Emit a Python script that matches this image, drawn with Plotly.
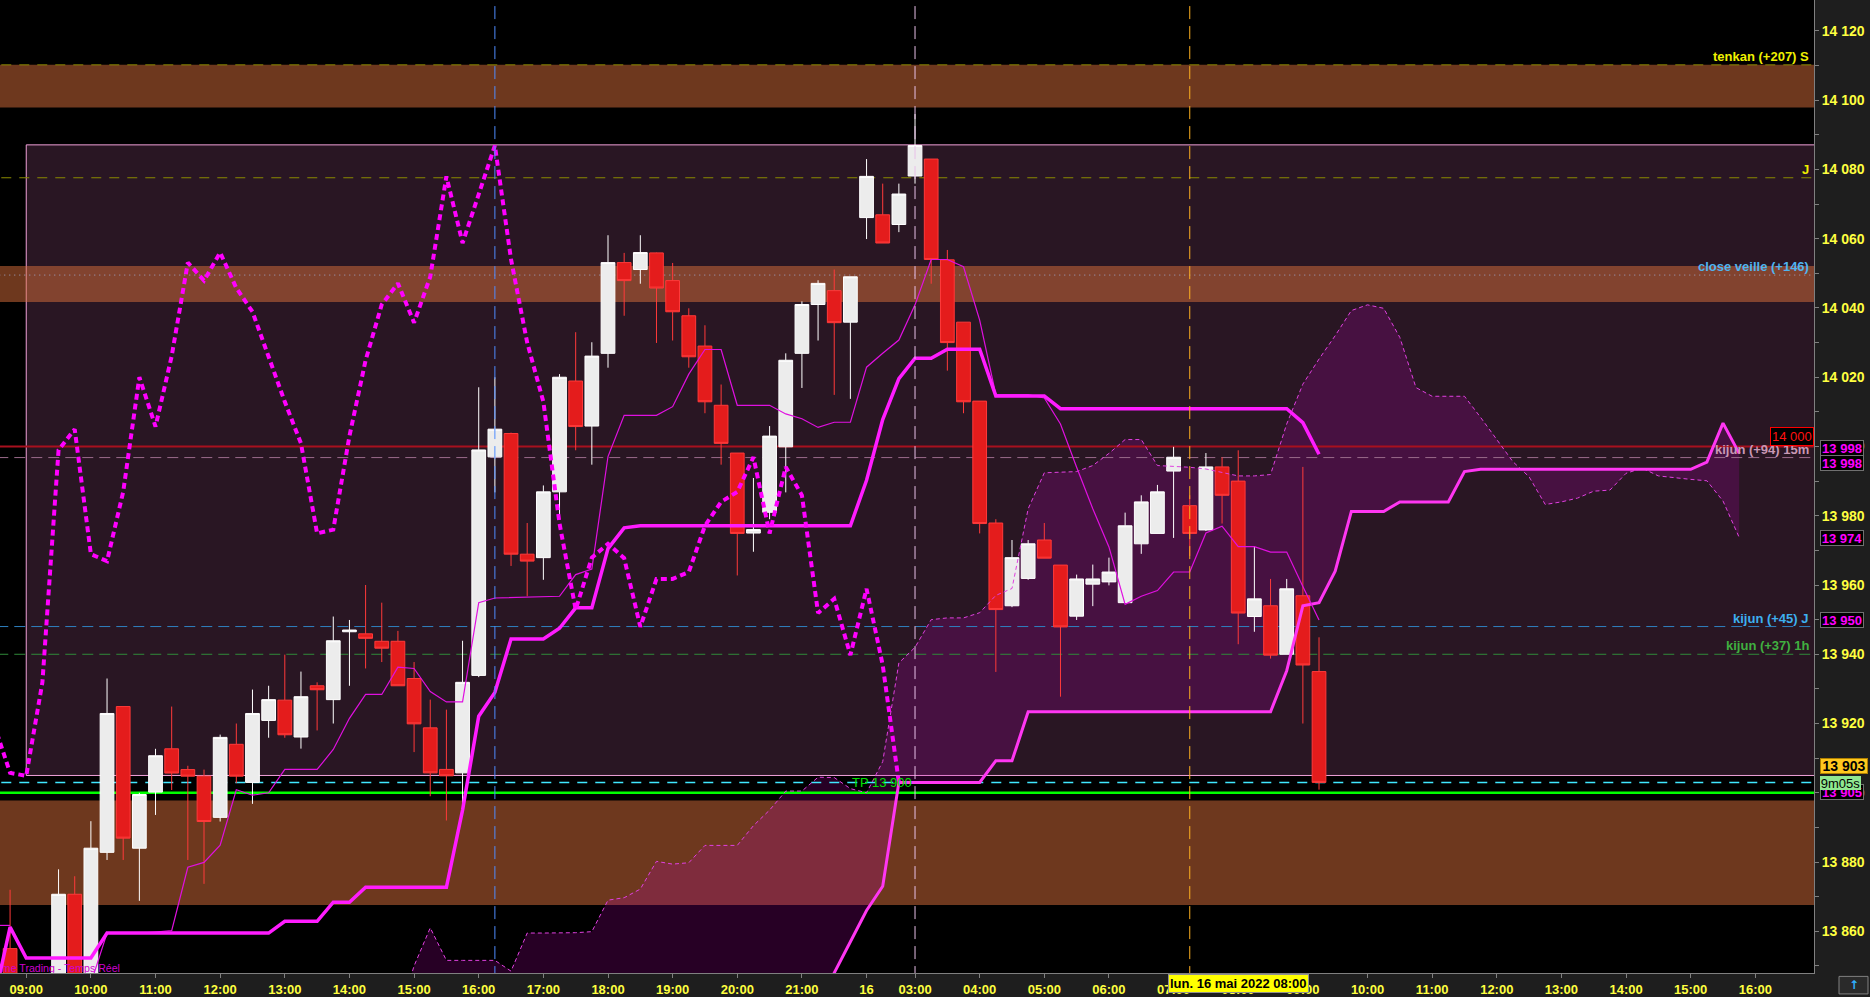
import plotly.graph_objects as go

# ---------------- DATA ----------------
# 15-minute candles: Fri 13 May 2022 08:45 -> 21:45, then Mon 16 May 2022 02:15 -> 09:15
opens = [13855, None, None, 13840, 13870.7, 13840, 13882.8, 13924.9, 13884, 13900.2,
         13912.7, 13906.7, 13904.8, 13892.9, 13914, 13903, 13920.9, 13926.75, 13916.1, 13930.9,
         13926.9, 13946.5, 13945.9, 13943.75, 13943.75, 13933, 13918.75, 13906.75, 13905.75, 13933.9,
         13997, 14003.75, 13968.9, 13967.9, 13986.9, 14018.9, 14005.9, 14026.9, 14053.1, 14051.1,
         14055.9, 14047.9, 14037.75, 14029, 14011.9, 13998.1, 13975, 13981, 13999.9, 14026.9,
         14041, 14045, 14035.9, 14066.1, 14066.9, 14064.1, 14078.1, 14083, 14053.9, 14035.9,
         14013.1, 13977.9, 13954, 13961.9, 13973, 13965.75, 13951, 13960.25, 13960.9, 13954.9,
         13971.9, 13974.9, 13992.9, 13982.9, 13975.9, 13994.1, 13990, 13950.9, 13954, 13940,
         13956.9, 13935]
highs = [13872, None, None, 13877.9, 13875.9, 13891.8, 13933, 13925, 13900, 13912.7,
         13924.9, 13907.8, 13906.7, 13916.8, 13920, 13929.8, 13930.9, 13939.9, 13935, 13931.9,
         13950.9, 13949.9, 13960, 13954.9, 13946.75, 13937.75, 13926.9, 13924, 13943.9, 14017.1,
         14020, 14004, 13977.9, 13988.75, 14020.9, 14033, 14030.1, 14061, 14055.9, 14061,
         14056, 14053, 14039.9, 14035, 14017.9, 13998.1, 13990.9, 14005.9, 14026.9, 14041.9,
         14048, 14051.1, 14049, 14083, 14075.9, 14075.9, 14096, 14083, 14056.75, 14035.9,
         14013.1, 13979, 13973, 13973, 13977.9, 13965.75, 13963, 13965.9, 13967.9, 13980.9,
         13985.9, 13988.9, 13999.9, 13985.9, 13998.1, 13996.9, 13998.9, 13971.1, 13961.75, 13961.75,
         13994.1, 13944.9]
lows = [13835, None, None, 13835, 13835, 13835, 13880.6, 13880.6, 13868.8, 13893.6,
        13900.8, 13880.6, 13873.7, 13891.7, 13902.8, 13896.8, 13915.9, 13915.9, 13912.75, 13918,
        13920, 13930.9, 13935.9, 13937.75, 13930.9, 13911.75, 13899, 13892, 13896, 13933.4,
        13986.75, 13965.5, 13956.75, 13961.5, 13979.9, 13998.9, 13994.75, 14022.75, 14037.75, 14047,
        14029.9, 14030.6, 14022.75, 14009.6, 13994.75, 13962.75, 13969.6, 13979, 13986.75, 14016.9,
        14030.6, 14014.9, 14013.75, 14059.9, 14058.75, 14061.9, 14075.9, 14047, 14021.9, 14009.6,
        13974.9, 13934.9, 13953.6, 13961.5, 13967.75, 13927.75, 13949.9, 13953.9, 13959.9, 13954.9,
        13969, 13974.9, 13973.6, 13968.4, 13975.6, 13977.75, 13942.9, 13946.5, 13938.75, 13940,
        13920, 13900.9]
closes = [13840, None, None, 13870.7, 13840, 13884, 13922.9, 13886.9, 13899.5, 13910.7,
          13905.7, 13904.8, 13891.7, 13916, 13904.8, 13922.9, 13926.9, 13916.75, 13927.75, 13929.75,
          13943.9, 13947, 13944.6, 13941.75, 13930.9, 13919.9, 13905.75, 13904.9, 13931.9, 13999,
          14005, 13968.9, 13966.9, 13986.9, 14020, 14005.75, 14026.1, 14053.1, 14047.9, 14056,
          14045.75, 14038.9, 14025.9, 14012.9, 14000.9, 13974.9, 13976, 14003, 14024.9, 14041,
          14047.1, 14035.75, 14049, 14078, 14058.75, 14072.9, 14086.9, 14054, 14030, 14012.9,
          13977.75, 13952.9, 13967.9, 13971.9, 13967.75, 13947.9, 13961.75, 13961.75, 13963.75, 13977.1,
          13984, 13986.9, 13996.9, 13974.9, 13994.1, 13985.9, 13951.9, 13956, 13939.75, 13958.9,
          13936.9, 13903]

# Ichimoku lines (values per bar, first value = bar -1)
tenkan = [13861.7, 13861.7, None, None, None, None, 13845,
          13859.5, 13859.5, 13859.5, 13859.8, 13860.2, 13878.5, 13879.9, 13884.9, 13900.9, 13899.3,
          13900.0, 13906.75, 13906.75, 13906.75, 13912.5, 13921.5, 13928.4, 13928.4, 13936.25, 13935.9,
          13929.25, 13926.25, 13926.25, 13954.9, 13956.25, 13956.4, 13956.5, 13956.6, 13956.75, 13963.0,
          13964.6, 13997.1, 14009.0, 14009.0, 14009.0, 14011.5, 14020.9, 14028.0, 14028.0, 14011.9,
          14011.9, 14011.9, 14009.4, 14008.0, 14005.5, 14007.0, 14007.0, 14022.9, 14026.9, 14030.75,
          14040.9, 14054.0, 14054.0, 14051.9, 14036.5, 14015.0, 14015.0, 14015.0, 14014.0, 14006.5,
          13994.0, 13982.0, 13971.0, 13954.4, 13956.75, 13958.4, 13963.75, 13963.75, 13975.0, 13977.0,
          13971.1, 13971.1, 13969.5, 13969.5, 13959.6, 13949.9]
kijun = [13840, 13861.2,
         13852.3, 13852.3, 13852.3, 13852.3, 13852.3,
         13859.5, 13859.5, 13859.5, 13859.5, 13859.5, 13859.5, 13859.5, 13859.5, 13859.5, 13859.5, 13859.5,
         13862.9, 13862.9, 13862.9, 13868.4, 13868.4,
         13872.7, 13872.7, 13872.7, 13872.7, 13872.7, 13872.7,
         13895, 13922.1, 13929, 13944.4, 13944.4, 13944.4, 13947.5, 13953.4, 13953.4, 13970.5, 13976.5,
         13977.1, 13977.1, 13977.1, 13977.1, 13977.1, 13977.1, 13977.1, 13977.1, 13977.1, 13977.1,
         13977.1, 13977.1, 13977.1, 13977.1,
         13990.25, 14007.75, 14019.6, 14025.5, 14025.5, 14028.1, 14028.1, 14028.1,
         14014.6, 14014.6, 14014.6, 14014.6,
         14010.9, 14010.9, 14010.9, 14010.9, 14010.9, 14010.9, 14010.9, 14010.9, 14010.9, 14010.9,
         14010.9, 14010.9, 14010.9, 14010.9, 14010.9,
         14006.9, 13997.75]
# senkou spans, projected 26 bars ahead (first value = bar 24)
senkou_a = [13835, 13850, 13861, 13851.6, 13851.6, 13851.6, 13851.6, 13848.5, 13859.5, 13859.5,
            13859.5, 13859.6, 13859.9, 13869, 13869.7, 13872.2, 13880.2, 13879.4, 13879.8, 13884.8,
            13884.8, 13884.8, 13890.5, 13895, 13900.5, 13900.5, 13904.5, 13904.4, 13901.2, 13900,
            13909, 13937.5, 13942, 13950, 13950.5, 13950.5, 13952, 13957, 13959, 13982,
            13992.4, 13992.6, 13992.75, 13994.5, 13998, 14002, 14002, 13994.5, 13994.3, 13994,
            13993.5, 13992.5, 13991.5, 13991.5, 13991.9, 14006.5, 14018, 14025.25, 14032, 14039.25,
            14040.9, 14039.9, 14031.5, 14017, 14014.5, 14014.5, 14014.5, 14008.4, 14002.1, 13995.6,
            13991.25, 13983.25, 13984, 13985.1, 13987.1, 13987.4, 13992.25, 13993.75, 13991.5, 13990.9,
            13990.5, 13990.1, 13984.25, 13973.75]
senkou_b = [13835, 13835, 13835, 13835, 13835, 13835, 13835, 13835, 13835, 13835,
            13835, 13835, 13835, 13835, 13835, 13835, 13835, 13835, 13835, 13835,
            13835, 13835, 13835, 13835, 13835, 13835, 13838, 13848, 13857, 13866,
            13873, 13903, 13903, 13903, 13903, 13903, 13903, 13909.25, 13909.25, 13923.4,
            13923.4, 13923.4, 13923.4, 13923.4, 13923.4, 13923.4, 13923.4, 13923.4, 13923.4, 13923.4,
            13923.4, 13923.4, 13923.4, 13923.4, 13923.4, 13935.25, 13954, 13954.9, 13964, 13981.25,
            13981.25, 13981.25, 13984, 13984, 13984, 13984, 13992.75, 13993.4, 13993.4, 13993.4,
            13993.4, 13993.4, 13993.4, 13993.4, 13993.4, 13993.4, 13993.4, 13993.4, 13993.4, 13993.4,
            13993.4, 13995.5, 14006.75, 13998]

tick_pos = [1, 5, 9, 13, 17, 21, 25, 29, 33, 37, 41, 45, 49, 53, 56, 60, 64, 68, 72, 76, 80,
            84, 88, 92, 96, 100, 104, 108]
tick_text = ["09:00", "10:00", "11:00", "12:00", "13:00", "14:00", "15:00", "16:00", "17:00",
             "18:00", "19:00", "20:00", "21:00", "16", "03:00", "04:00", "05:00", "06:00", "07:00",
             "08:00", "09:00", "10:00", "11:00", "12:00", "13:00", "14:00", "15:00", "16:00"]

# ---------------- FIGURE ----------------
FONT = "Liberation Sans, Arial, sans-serif"
bars_x = list(range(len(opens)))
line_x = list(range(-1, len(tenkan) - 1))
sen_x = list(range(24, 24 + len(senkou_a)))
chikou_x = [i - 26 for i in range(25, len(closes))]
chikou_y = closes[25:]

X_RANGE = [-0.624, 111.63]
Y_RANGE = [13847.96, 14128.93]
XL, XH = -5, 140   # horizontal extent for zone shapes (clipped by the plot area)

fig = go.Figure()

# watermark (partly cut by the left edge, as in the original)
fig.add_trace(go.Scatter(x=[6.8], y=[13848.9], mode="text", text=["ProRealTime Trading - Temps Réel"],
                         textposition="middle left", textfont=dict(family=FONT, size=10.6, color="#d000d0"),
                         hoverinfo="skip"))

fig.add_trace(go.Candlestick(
    x=bars_x, open=opens, high=highs, low=lows, close=closes,
    increasing=dict(line=dict(color="#ffffff", width=1), fillcolor="#ececec"),
    decreasing=dict(line=dict(color="#ff3a3a", width=1), fillcolor="#e41c1c"),
    whiskerwidth=0, hoverinfo="skip"))

fig.add_trace(go.Scatter(x=sen_x, y=senkou_a, mode="lines",
                         line=dict(color="#e040e0", width=1, dash="4px,3px"), hoverinfo="skip"))
fig.add_trace(go.Scatter(x=sen_x, y=senkou_b, mode="lines",
                         line=dict(color="#ff36f2", width=3), hoverinfo="skip"))
fig.add_trace(go.Scatter(x=line_x, y=tenkan, mode="lines",
                         line=dict(color="#e010e0", width=1.2), hoverinfo="skip"))
fig.add_trace(go.Scatter(x=line_x, y=kijun, mode="lines",
                         line=dict(color="#ff1cff", width=3.5), hoverinfo="skip"))
fig.add_trace(go.Scatter(x=chikou_x, y=chikou_y, mode="lines",
                         line=dict(color="#ff00ff", width=4, dash="6px,4px"), hoverinfo="skip"))

# cloud path (between senkou A and B)
pts = list(zip(sen_x, senkou_a)) + list(zip(sen_x, senkou_b))[::-1]
cloud_path = "M " + " L ".join(f"{x},{y}" for x, y in pts) + " Z"

band = "rgba(220,112,60,0.5)"
shapes = [
    dict(type="rect", xref="x", yref="y", x0=1, x1=XH, y0=13905, y1=14087.1,
         fillcolor="#291623", line=dict(color="#f0a0d8", width=1), layer="below"),
    dict(type="rect", xref="x", yref="y", x0=XL, x1=XH, y0=14097.9, y1=14110.2,
         fillcolor=band, line=dict(width=0), layer="below"),
    dict(type="rect", xref="x", yref="y", x0=XL, x1=XH, y0=14041.7, y1=14052.1,
         fillcolor=band, line=dict(width=0), layer="below"),
    dict(type="rect", xref="x", yref="y", x0=XL, x1=XH, y0=13867.6, y1=13897.8,
         fillcolor=band, line=dict(width=0), layer="below"),
    dict(type="path", xref="x", yref="y", path=cloud_path,
         fillcolor="rgba(196,0,185,0.2)", line=dict(width=0), layer="below"),
]
hlines = [
    (14110.2, "#8a8a00", 1, "10px,8px"),
    (14077.6, "#8a8a00", 1, "10px,8px"),
    (14049.5, "#a0a8c8", 1, "1px,4px"),
    (14000.0, "#a8101e", 2, "solid"),
    (13996.8, "#9a6a8a", 1, "11px,6px"),
    (13948.0, "#2f80c0", 1, "11px,6px"),
    (13940.0, "#2f8a3a", 1, "11px,6px"),
    (13903.0, "#40e8ff", 1.5, "10px,8px"),
    (13900.0, "#00ff00", 2.5, "solid"),
]
for yv, col, w, dsh in hlines:
    shapes.append(dict(type="line", xref="x", yref="y", x0=XL, x1=XH, y0=yv, y1=yv,
                       line=dict(color=col, width=w, dash=dsh), layer="below"))
vlines = [(30, "#4f8cff"), (56, "#e8c0e8"), (73, "#ffb020")]
for xv, col in vlines:
    shapes.append(dict(type="line", xref="x", yref="y", x0=xv, x1=xv, y0=13800, y1=14200,
                       line=dict(color=col, width=1, dash="13px,7px"), layer="above"))
# small toolbar button in the bottom-right corner
shapes.append(dict(type="rect", xref="paper", yref="paper", x0=1839 / 1814, x1=1868 / 1814,
                   y0=-0.0035, y1=-0.0215, fillcolor="#2a2a2a", line=dict(color="#808080", width=1)))

XR = 1810 / 1814
ann = []
def lbl(text, y, color):
    ann.append(dict(xref="paper", yref="y", x=XR, y=y, xanchor="right", yanchor="bottom",
                    text=text, showarrow=False, borderpad=0,
                    font=dict(family=FONT, size=13, color=color, weight="bold")))
lbl("tenkan (+207) S", 14110.2, "#f0f000")
lbl("J", 14077.6, "#f0f000")
lbl("close veille (+146)", 14049.5, "#50b4f0")
lbl("kijun (+94) 15m", 13996.8, "#c898b4")
lbl("kijun (+45) J", 13948.0, "#3db0f0")
lbl("kijun (+37) 1h", 13940.0, "#40b040")

ann.append(dict(xref="x", yref="y", x=53.94, y=13900.4, text="TP 13 900", showarrow=False,
                xanchor="center", yanchor="bottom", borderpad=0,
                font=dict(family=FONT, size=13, color="#00e000")))
ann.append(dict(xref="paper", yref="y", x=1.0, y=14000, text="14 000", showarrow=False,
                xanchor="right", yanchor="bottom", bgcolor="#000000", bordercolor="#ff0000",
                borderwidth=1, borderpad=1, font=dict(family=FONT, size=13, color="#ff1010")))

AX = 1820 / 1814
def axbox(text, y, fg, bg, border, w=42, bold=True, size=13):
    ann.append(dict(xref="paper", yref="y", x=AX, y=y, xanchor="left", yanchor="middle",
                    text=text, showarrow=False, bgcolor=bg, bordercolor=border,
                    borderwidth=1 if border else 0, borderpad=0, width=w, height=14,
                    font=dict(family=FONT, size=size, color=fg, weight="bold" if bold else "normal")))
axbox("13 998", 13999.7, "#ff00ff", "#000000", "#707070")
axbox("13 998", 13995.2, "#ff00ff", "#000000", "#707070")
axbox("13 974", 13973.6, "#ff00ff", "#000000", "#707070")
axbox("13 950", 13950.0, "#ff00ff", "#000000", "#707070")
axbox("13 905", 13900.2, "#ff00ff", "#000000", "#707070")
axbox("13 903", 13907.6, "#000000", "#ffc81e", "#b08000", w=46, size=14)
axbox("9m05s", 13902.7, "#000000", "#90e890", None, w=41, bold=False)

ann.append(dict(xref="x", yref="paper", x=76, y=-0.0103, xanchor="center", yanchor="middle",
                text="lun. 16 mai 2022 08:00", showarrow=False, bgcolor="#ffff00",
                bordercolor="#909090", borderwidth=1, borderpad=1,
                font=dict(family=FONT, size=13, color="#000000", weight="bold")))
ann.append(dict(xref="paper", yref="paper", x=1853.5 / 1814, y=-0.0125, xanchor="center",
                yanchor="middle", text="↑", showarrow=False,
                font=dict(family="DejaVu Sans", size=12, color="#30b0ff", weight="bold")))

fig.update_layout(
    width=1870, height=997,
    margin=dict(l=0, r=56, t=0, b=22),
    paper_bgcolor="#1e1e1e", plot_bgcolor="#000000",
    showlegend=False, hovermode=False,
    separators=". ",
    boxgap=0.15, boxgroupgap=0,
    shapes=shapes, annotations=ann,
    xaxis=dict(range=X_RANGE, tickmode="array", tickvals=tick_pos, ticktext=tick_text,
               ticks="outside", ticklen=4, tickcolor="#808080", showgrid=False, zeroline=False,
               showline=True, linecolor="#808080", linewidth=1,
               tickfont=dict(family=FONT, size=13, color="#ffff40", weight="bold"),
               rangeslider=dict(visible=False), fixedrange=True),
    yaxis=dict(range=Y_RANGE, side="right", tickmode="linear", tick0=13860, dtick=20,
               tickformat=",d", ticks="outside", ticklen=4, tickcolor="#808080",
               minor=dict(dtick=10, tick0=13850, ticks="outside", ticklen=4, tickcolor="#808080"),
               showgrid=False, zeroline=False, showline=True, linecolor="#808080", linewidth=1,
               tickfont=dict(family=FONT, size=14, color="#ffff40", weight="bold"),
               fixedrange=True),
)

fig.write_html("out.html", config={"displayModeBar": False},
               post_script="document.body.style.margin='0';document.body.style.overflow='hidden';")
